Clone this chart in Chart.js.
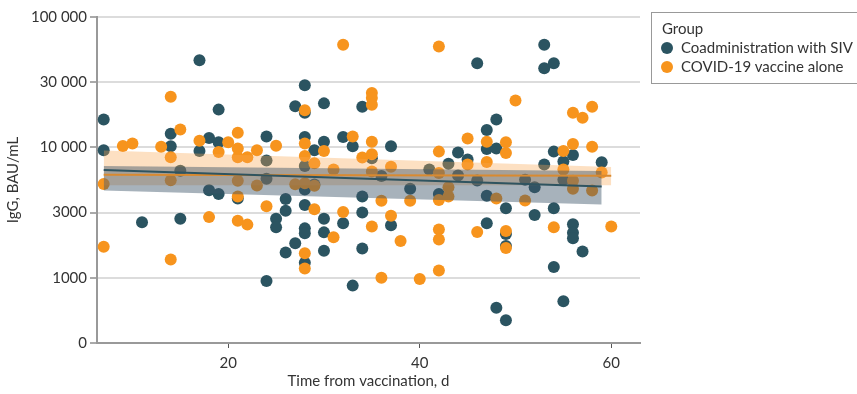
<!DOCTYPE html>
<html>
<head>
<meta charset="utf-8">
<script src="https://cdn.jsdelivr.net/npm/chart.js@4/dist/chart.umd.min.js"></script>
<style>
  body { margin: 0; background: #fff; font-family: Lato, sans-serif; }
  #wrap { position: relative; width: 857px; height: 394px; overflow: hidden; }
  #legend { position: absolute; left: 651px; top: 12px; width: 230px; height: 72px; border: 1px solid #999; box-sizing: border-box; color: #333; font-size: 15px; }
  #legend .title { position: absolute; left: 10px; top: 6px; }
  #legend .item { position: absolute; left: 9px; white-space: nowrap; }
  #legend .dot { display: inline-block; width: 12px; height: 12px; border-radius: 50%; vertical-align: -1px; margin-right: 8px; }
</style>
</head>
<body>
<div id="wrap">
  <canvas id="chart" width="857" height="394"></canvas>
  <div id="legend">
    <div class="title">Group</div>
    <div class="item" style="top:25px"><span class="dot" style="background:#2b5461"></span>Coadministration with SIV</div>
    <div class="item" style="top:44px"><span class="dot" style="background:#f7941d"></span>COVID-19 vaccine alone</div>
  </div>
</div>
<script>
// Colors
// teal #2b5461
// orange #f7941d

// y tick values and labels (axis is evenly spaced between these)
const yTickValues = [0, 1000, 3000, 10000, 30000, 100000]
const yTickLabels = [`0`, `1000`, `3000`, `10 000`, `30 000`, `100 000`]
const xTicks = [20, 40, 60]

// Coadministration with SIV: day, IgG BAU/mL
const coadDays = [7, 7, 11, 14, 14, 15, 15, 17, 17, 18, 18, 19, 19, 19, 21, 24, 24, 24, 24, 25, 25, 26, 26, 26, 27, 27,
  28, 28, 28, 28, 28, 28, 28, 28, 28, 29, 29, 30, 30, 30, 30, 30, 32, 32, 33, 33, 34, 34, 34, 34, 35, 36, 37, 37,
  39, 41, 42, 43, 44, 44, 45, 46, 46, 47, 47, 47, 47, 48, 48, 48, 49, 49, 49, 49, 51, 52, 52, 53, 53, 53,
  54, 54, 54, 54, 55, 55, 55, 56, 56, 56, 56, 57, 59]
const coadIgG = [16000, 9500, 2550, 12600, 10200, 6500, 2700, 45000, 9350, 11700, 4530, 10900, 18900, 4230, 3900, 12000, 7850, 5600, 950, 2700, 2340, 3850, 3110, 1530, 20000, 1790,
  28500, 17900, 11900, 7100, 4600, 3450, 2300, 2120, 1290, 9500, 5040, 21000, 11000, 2700, 2150, 1580, 11900, 2510, 10200, 880, 19800, 4030, 3000, 1640, 8200, 5900, 10200, 2420,
  4650, 6650, 4230, 7400, 9100, 5950, 8000, 42500, 5430, 13400, 9700, 4100, 2510, 16000, 9800, 540, 3250, 2090, 1710, 350, 5500, 4800, 2880, 60000, 38800, 7300,
  42500, 9250, 3250, 1200, 7700, 5500, 640, 8700, 2470, 2140, 1950, 1560, 7600]

// COVID-19 vaccine alone: day, IgG BAU/mL
const aloneDays = [7, 7, 9, 10, 13, 14, 14, 14, 14, 15, 17, 18, 19, 20, 21, 21, 21, 21, 21, 21, 22, 22, 23, 23, 24, 25, 27,
  28, 28, 28, 28, 28, 28, 29, 29, 29, 30, 31, 31, 32, 32, 33, 34, 35, 35, 35, 35, 35, 35, 35, 36, 36, 37, 37, 38, 39, 40,
  42, 42, 42, 42, 42, 42, 42, 43, 43, 45, 45, 46, 47, 47, 48, 49, 49, 49, 49, 50, 51, 54, 55, 55, 56, 56, 56, 56, 57,
  58, 58, 58, 59, 60]
const aloneIgG = [5080, 1690, 10250, 10700, 10100, 23500, 8340, 5440, 1360, 13500, 11200, 2780, 9200, 10900, 12800, 9800, 8350, 5400, 4030, 2620, 8350, 2450, 9500, 4950, 3370, 10300, 5060,
  18700, 10700, 8550, 5150, 1510, 1170, 7450, 4930, 3190, 9350, 6650, 1980, 60000, 3040, 12000, 8300, 25000, 23000, 20500, 11000, 8800, 6400, 2370, 3740, 1000, 7000, 2850, 1860, 3740, 980,
  58000, 9250, 6240, 3780, 2260, 1910, 1130, 4800, 4030, 11600, 7300, 2160, 11000, 7650, 3900, 10900, 9000, 2200, 1650, 22000, 3750, 2340, 9350, 6650, 17900, 10600, 5400, 4650, 16500,
  19800, 10100, 4520, 6300, 2370]

// fitted lines and 95% bands (start, end)
const coadFitDays = [7, 59]
const coadFit = [6600, 4860]
const coadLow = [4520, 3480]
const coadHigh = [7100, 6470]
const aloneFitDays = [7, 60]
const aloneFit = [6030, 5920]
const aloneLow = [4970, 4970]
const aloneHigh = [9460, 6960]

// map IgG onto the evenly spaced axis
function toAxis(v) {
  if (v <= yTickValues[1]) return v / yTickValues[1]
  for (let i = 2; i < yTickValues.length; i++) {
    if (v <= yTickValues[i]) {
      return (i - 1) + Math.log(v / yTickValues[i - 1]) / Math.log(yTickValues[i] / yTickValues[i - 1])
    }
  }
  return yTickValues.length - 1
}

const pts = (days, vals) => days.map((d, i) => ({ x: d, y: toAxis(vals[i]) }))

const lineSet = (days, vals, extra) => Object.assign({
  type: `line`,
  data: pts(days, vals),
  pointRadius: 0,
  borderWidth: 0,
  fill: false
}, extra)

const font = { family: `Lato`, size: 15 }

new Chart(document.querySelector(`#chart`).getContext(`2d`), {
  type: `scatter`,
  data: {
    datasets: [
      lineSet(coadFitDays, coadFit, { borderColor: `#2f5460`, borderWidth: 2, order: 0 }),
      lineSet(aloneFitDays, aloneFit, { borderColor: `#d98a30`, borderWidth: 2, order: 1 }),
      lineSet(coadFitDays, coadHigh, { fill: `+1`, backgroundColor: `rgba(60, 85, 105, 0.45)`, order: 2 }),
      lineSet(coadFitDays, coadLow, { order: 2 }),
      lineSet(aloneFitDays, aloneHigh, { fill: `+1`, backgroundColor: `rgba(250, 165, 80, 0.35)`, order: 3 }),
      lineSet(aloneFitDays, aloneLow, { order: 3 }),
      { label: `COVID-19 vaccine alone`, data: pts(aloneDays, aloneIgG), backgroundColor: `#f7941d`, borderWidth: 0, pointRadius: 6, order: 4 },
      { label: `Coadministration with SIV`, data: pts(coadDays, coadIgG), backgroundColor: `#2b5461`, borderWidth: 0, pointRadius: 6, order: 5 }
    ]
  },
  options: {
    responsive: false,
    animation: false,
    layout: { padding: { top: 17, right: 217, left: 0, bottom: 0 } },
    plugins: { legend: { display: false }, tooltip: { enabled: false } },
    scales: {
      x: {
        type: `linear`,
        min: 6.3,
        max: 63,
        afterBuildTicks: axis => { axis.ticks = xTicks.map(v => ({ value: v })) },
        afterFit: axis => { axis.height = 51 },
        grid: { drawOnChartArea: false, tickLength: 5, tickColor: `#555`, tickWidth: 1 },
        border: { color: `#999`, width: 2 },
        ticks: { color: `#333`, font: font, padding: 6 },
        title: { display: true, text: `Time from vaccination, d`, color: `#333`, font: font, padding: { top: 4 } }
      },
      y: {
        type: `linear`,
        min: 0,
        max: yTickValues.length - 1,
        afterBuildTicks: axis => { axis.ticks = yTickValues.map((v, i) => ({ value: i })) },
        afterFit: axis => { axis.width = 97 },
        grid: { color: `#dcdcdc`, lineWidth: 2, tickLength: 7, tickColor: `#555`, tickWidth: 1 },
        border: { color: `#999`, width: 2 },
        ticks: { color: `#333`, font: font, padding: 3, callback: v => yTickLabels[v] },
        title: { display: true, text: `IgG, BAU/mL`, color: `#333`, font: font, padding: { top: 4, bottom: 4 } }
      }
    }
  }
})
</script>
</body>
</html>
